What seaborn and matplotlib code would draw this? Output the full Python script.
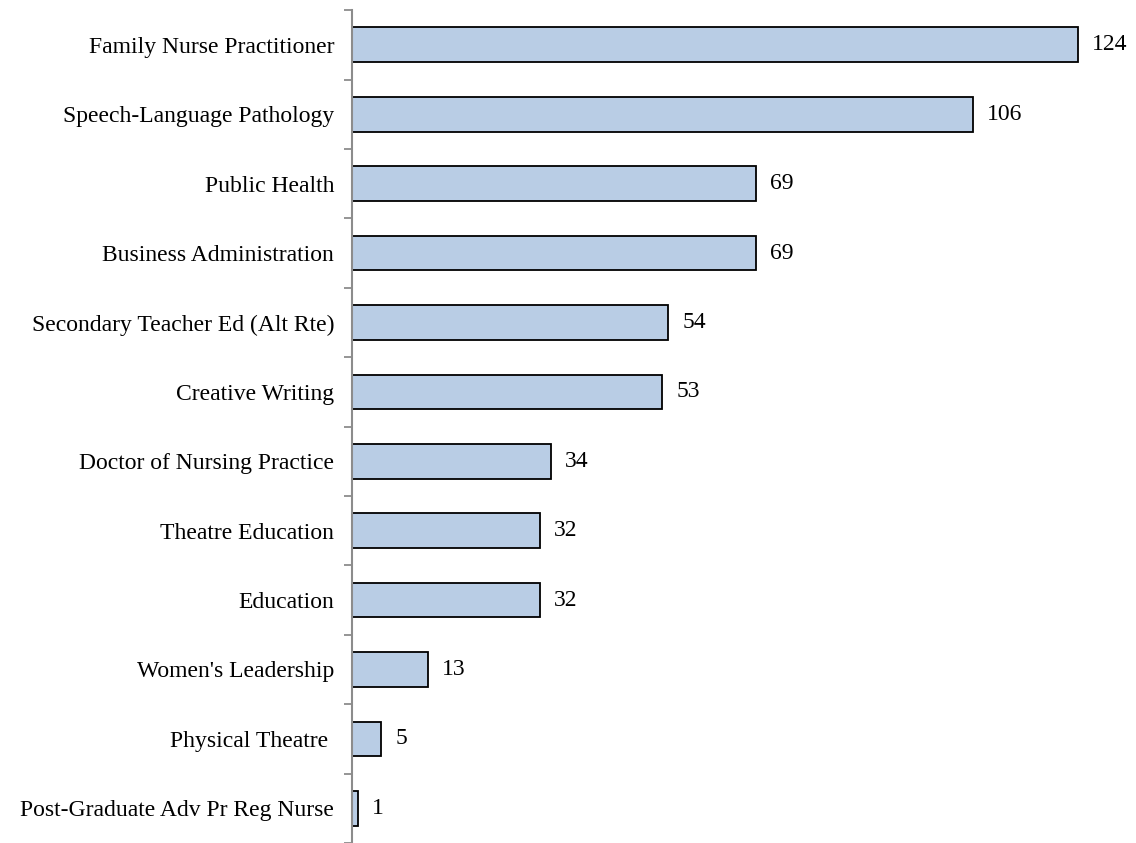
import numpy as np
import pandas as pd
import seaborn as sns
import matplotlib.pyplot as plt
from matplotlib.ticker import FixedLocator

programs = ['Family Nurse Practitioner', 'Speech-Language Pathology', 'Public Health',
            'Business Administration', 'Secondary Teacher Ed (Alt Rte)', 'Creative Writing',
            'Doctor of Nursing Practice', 'Theatre Education', 'Education',
            "Women's Leadership", 'Physical Theatre ', 'Post-Graduate Adv Pr Reg Nurse']
counts = [124, 106, 69, 69, 54, 53, 34, 32, 32, 13, 5, 1]

sns.set_style('white')
plt.rcParams['font.family'] = ['Liberation Serif', 'DejaVu Serif']
plt.rcParams['text.color'] = 'black'
plt.rcParams['ytick.color'] = 'black'

df = pd.DataFrame({'Program': programs, 'Count': counts})

fig = plt.figure(figsize=(11.36, 8.43), dpi=100)
ax = fig.add_axes([0.31, 0.0, 0.67, 0.988])
sns.barplot(data=df, y='Program', x='Count', color='#B9CDE5', edgecolor='black',
            linewidth=1.3, width=0.5, saturation=1, ax=ax)

ax.set_xlim(0, 130)
ax.set_ylim(len(programs) - 0.5, -0.5)
ax.set_xlabel('')
ax.set_ylabel('')
ax.set_xticks([])
for s in ['top', 'right', 'bottom']:
    ax.spines[s].set_visible(False)
ax.spines['left'].set_color('#8c8c8c')
ax.spines['left'].set_linewidth(1.5)

ax.tick_params(axis='y', which='major', left=True, length=0, pad=13, labelsize=17,
               labelcolor='black')
ax.yaxis.set_minor_locator(FixedLocator(np.arange(-0.5, len(programs), 1)))
ax.tick_params(axis='y', which='minor', left=True, length=6, width=1.3,
               color='#8c8c8c', direction='out')

for container in ax.containers:
    ax.bar_label(container, fmt='%d', padding=10, fontsize=17, color='black')

plt.savefig('out.png', dpi=100)
plt.close()
